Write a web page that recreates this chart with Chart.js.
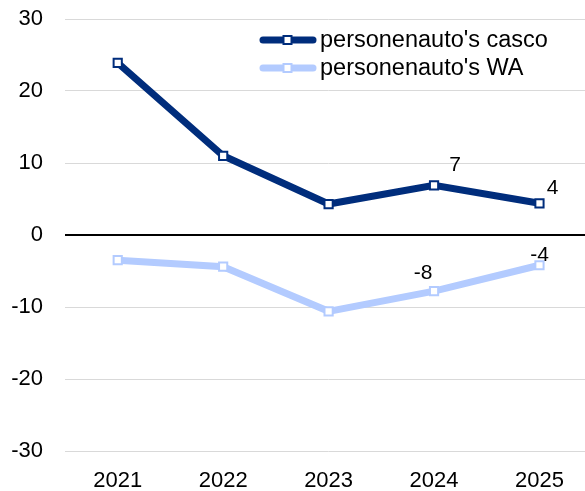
<!DOCTYPE html>
<html><head><meta charset="utf-8">
<script src="https://cdn.jsdelivr.net/npm/chart.js@4"></script>
<style>html,body{margin:0;padding:0;overflow:hidden;background:#fff}#wrap{width:600px;height:491px;position:relative}</style>
</head><body>
<div id="wrap"><canvas id="c" width="600" height="491"></canvas></div>
<script>
const years = ['2021','2022','2023','2024','2025'];
const casco = [23.9, 11.0, 4.3, 6.9, 4.4];
const wa = [-3.5, -4.4, -10.6, -7.8, -4.2];
const seriesNames = ["personenauto's casco", "personenauto's WA"];
const cascoLabels = [null, null, null, '7', '4'];
const waLabels = [null, null, null, '-8', '-4'];
const yTicks = [-30, -20, -10, 0, 10, 20, 30];

const DARK = '#002D7C';
const LIGHT = '#B3CBFF';
const FONT = '"Liberation Sans", Arial, sans-serif';

const labelPlugin = {
  id: 'labels',
  afterDatasetsDraw(chart) {
    const ctx = chart.ctx;
    ctx.save();
    ctx.font = '21px ' + FONT;
    ctx.fillStyle = '#000';
    ctx.textAlign = 'center';
    ctx.textBaseline = 'middle';
    const offs = [[[0,0],[0,0],[0,0],[21,-20],[13,-15]], [[0,0],[0,0],[0,0],[-11,-18],[0,-10]]];
    chart.data.datasets.forEach((ds, di) => {
      const meta = chart.getDatasetMeta(di);
      const labs = di === 0 ? cascoLabels : waLabels;
      meta.data.forEach((pt, i) => {
        if (labs[i] == null) return;
        ctx.fillText(labs[i], pt.x + offs[di][i][0], pt.y + offs[di][i][1]);
      });
    });
    // legend
    ctx.font = '23.5px ' + FONT;
    const items = [[DARK, seriesNames[0], 40], [LIGHT, seriesNames[1], 68]];
    items.forEach(([col, name, y]) => {
      ctx.strokeStyle = col; ctx.lineWidth = 7; ctx.lineCap = 'round';
      ctx.beginPath(); ctx.moveTo(263, y); ctx.lineTo(313, y); ctx.stroke();
      ctx.fillStyle = '#fff'; ctx.lineWidth = 2; ctx.lineCap = 'butt';
      ctx.fillRect(283.5, y - 4, 8, 8); ctx.strokeRect(283.5, y - 4, 8, 8);
      ctx.fillStyle = '#000'; ctx.textAlign = 'left';
      ctx.fillText(name, 320, y + 1);
    });
    ctx.restore();
  }
};

new Chart(document.getElementById('c'), {
  type: 'line',
  data: {
    labels: years,
    datasets: [
      { label: seriesNames[0], data: casco, borderColor: DARK, backgroundColor: '#fff', borderWidth: 7,
        pointStyle: 'rect', pointRadius: 5.8, pointBorderWidth: 2, pointBorderColor: DARK, pointBackgroundColor: '#fff' },
      { label: seriesNames[1], data: wa, borderColor: LIGHT, backgroundColor: '#fff', borderWidth: 7,
        pointStyle: 'rect', pointRadius: 5.8, pointBorderWidth: 2, pointBorderColor: LIGHT, pointBackgroundColor: '#fff' }
    ]
  },
  options: {
    responsive: false, animation: false,
    layout: { padding: { top: 19, right: 0, left: 0, bottom: 0 } },
    plugins: { legend: { display: false }, tooltip: { enabled: false } },
    scales: {
      x: {
        offset: true,
        grid: { display: false },
        border: { display: false },
        ticks: { color: '#000', font: { family: FONT, size: 22 }, padding: 9 },
        afterFit(s) { s.height = 40; s.paddingLeft = 0; s.paddingRight = 0; }
      },
      y: {
        min: -30, max: 30,
        afterBuildTicks(s) { s.ticks = yTicks.map(v => ({ value: v })); },
        grid: {
          color: c => c.tick.value === 0 ? '#000' : '#d9d9d9',
          lineWidth: c => c.tick.value === 0 ? 2 : 1,
          drawTicks: false
        },
        border: { display: false },
        ticks: { color: '#000', font: { family: FONT, size: 22 }, padding: 22 },
        afterFit(s) { s.width = 65; s.paddingTop = 0; s.paddingBottom = 0; }
      }
    }
  },
  plugins: [labelPlugin]
});
</script>
</body></html>
